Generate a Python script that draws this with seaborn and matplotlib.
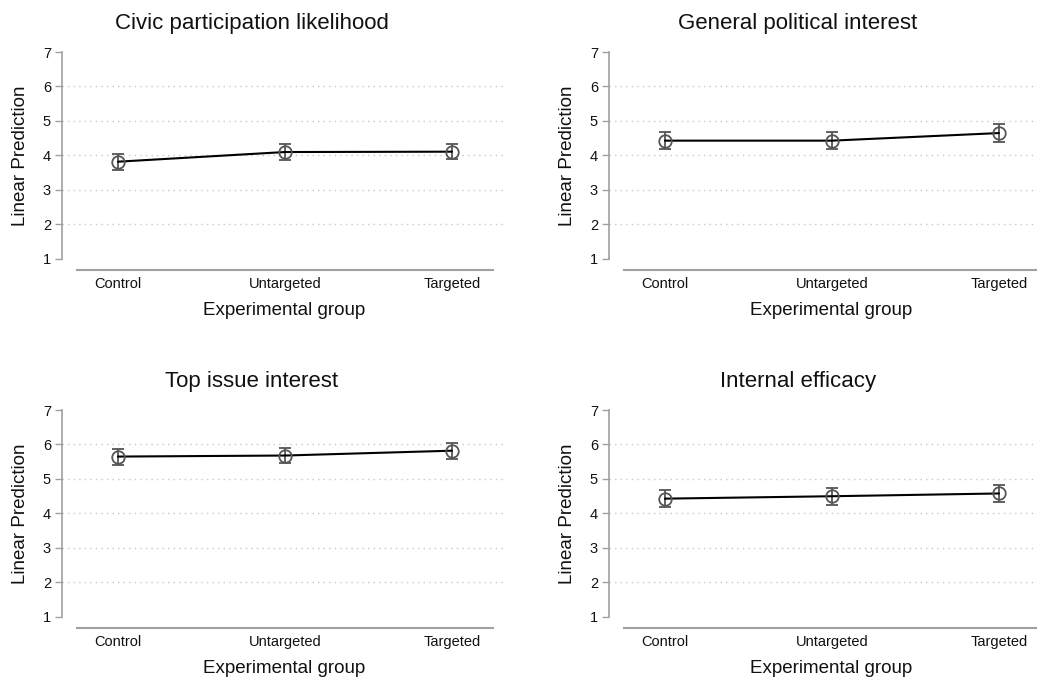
import matplotlib
matplotlib.use("Agg")
import matplotlib.pyplot as plt
import seaborn as sns
import pandas as pd

sns.set_theme(style="white")
plt.rcParams["font.family"] = ["Liberation Sans", "DejaVu Sans"]

groups = ["Control", "Untargeted", "Targeted"]

titles = [
    "Civic participation likelihood",
    "General political interest",
    "Top issue interest",
    "Internal efficacy",
]

civic_mean = [3.82, 4.10, 4.11]
civic_ci = [0.23, 0.22, 0.22]
political_mean = [4.43, 4.43, 4.65]
political_ci = [0.25, 0.25, 0.26]
topissue_mean = [5.65, 5.68, 5.82]
topissue_ci = [0.23, 0.23, 0.23]
efficacy_mean = [4.43, 4.50, 4.58]
efficacy_ci = [0.24, 0.24, 0.24]

means = [civic_mean, political_mean, topissue_mean, efficacy_mean]
cis = [civic_ci, political_ci, topissue_ci, efficacy_ci]

W, H = 1037, 680
fig = plt.figure(figsize=(W / 100, H / 100), dpi=100)

# panel anchors in pixels: (y-axis x, x-axis line y, top of axes)
lefts = [62, 609]
rows = [(270, 52), (628, 410)]
title_x = [252, 798]
title_y = [23, 381]
px_per_cat = 167
xmin, xmax = -0.335, 2.32
ymin, ymax = 0.68, 7.0

spine_col = "#a0a0a0"
mark_col = "#555555"
text_col = "#111111"

for i in range(4):
    r, c = divmod(i, 2)
    bottom_px, top_px = rows[r]
    left_px = lefts[c]
    width_px = (xmax - xmin) * px_per_cat
    ax = fig.add_axes([left_px / W, 1 - bottom_px / H, width_px / W,
                       (bottom_px - top_px) / H])

    df = pd.DataFrame({"pos": range(len(groups)), "mean": means[i],
                       "ci": cis[i]})
    ax.errorbar(df["pos"], df["mean"], yerr=df["ci"], fmt="none",
                ecolor=mark_col, elinewidth=1.3, capsize=4, capthick=1.3,
                zorder=2)
    sns.lineplot(data=df, x="pos", y="mean", ax=ax, color="black",
                 linewidth=1.5, marker="o", markersize=9,
                 markerfacecolor="none", markeredgecolor=mark_col,
                 markeredgewidth=1.3, zorder=3)

    ax.set_xlim(xmin, xmax)
    ax.set_ylim(ymin, ymax)
    ax.set_yticks(range(1, 8))
    ax.set_xticks(range(len(groups)))
    ax.set_xticklabels(groups)
    for y in range(2, 7):
        ax.axhline(y, color="#c8c8c8", linestyle=(0, (1, 3)),
                   linewidth=1.0, zorder=0)

    for s in ["top", "right"]:
        ax.spines[s].set_visible(False)
    ax.spines["left"].set_bounds(1, 7)
    ax.spines["left"].set_color(spine_col)
    ax.spines["left"].set_linewidth(1.2)
    ax.spines["bottom"].set_bounds(-0.245, 2.245)
    ax.spines["bottom"].set_color(spine_col)
    ax.spines["bottom"].set_linewidth(1.5)

    ax.tick_params(axis="y", which="both", left=True, length=5, width=1.0,
                   color=spine_col, labelsize=10.5, labelcolor=text_col,
                   pad=3)
    ax.tick_params(axis="x", bottom=False, length=0, labelsize=10.5,
                   labelcolor=text_col, pad=5)

    ax.set_ylabel("Linear Prediction", fontsize=13.5, color=text_col)
    # centre the y label on the 1-7 scale rather than the whole axes
    ax.yaxis.set_label_coords(-0.075, (4 - ymin) / (ymax - ymin))
    ax.set_xlabel("Experimental group", fontsize=13.5, color=text_col,
                  labelpad=8)
    fig.text(title_x[c] / W, 1 - title_y[r] / H, titles[i], fontsize=16,
             ha="center", va="center", color=text_col)

fig.savefig("out.png", dpi=100, facecolor="white")
